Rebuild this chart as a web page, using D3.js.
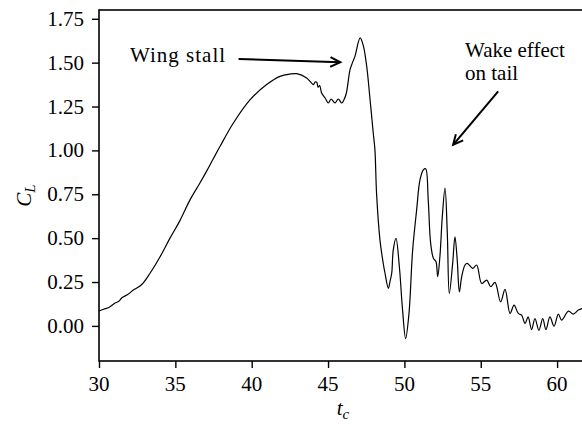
<!DOCTYPE html>
<html>
<head>
<meta charset="utf-8">
<script src="https://cdn.jsdelivr.net/npm/d3@7"></script>
<style>
  body { margin: 0; background: #fff; }
  svg { display: block; }
</style>
</head>
<body>
<svg id="chart" width="582" height="424"></svg>
<script>
// Lift coefficient history versus convective time
const tc = [30.0, 30.3, 30.65, 31.05, 31.3, 31.5, 31.9, 32.25, 32.8, 33.34, 34.0, 34.65, 35.3, 35.96, 36.6, 37.05,
  37.5, 37.92, 38.8, 39.9, 40.98, 41.85, 42.5, 42.95, 43.6, 44.04, 44.15, 44.26, 44.35, 44.45, 44.58, 44.8, 45.02,
  45.2, 45.45, 45.67, 45.9, 46.05, 46.2, 46.44, 46.6, 46.76, 47.1, 47.3, 47.53, 47.75, 47.96, 48.07, 48.18,
  48.4, 48.58, 48.73, 48.95, 49.05, 49.17, 49.27, 49.45, 49.67, 49.88, 50.08, 50.3, 50.54, 50.8, 51.02, 51.24,
  51.39, 51.56, 51.72, 51.9, 52.07, 52.18, 52.33, 52.48, 52.66, 52.81, 52.94, 53.16, 53.31, 53.46, 53.6, 53.75,
  53.97, 54.12, 54.47, 54.73, 55.06, 55.39, 55.65, 55.93, 56.3, 56.59, 56.92, 57.18, 57.46, 57.68, 57.9, 58.1,
  58.33, 58.55, 58.81, 59.06, 59.27, 59.53, 59.8, 60.08, 60.3, 60.74, 61.06, 61.39, 61.63, 62.0];
const cl = [0.085, 0.095, 0.105, 0.13, 0.14, 0.16, 0.18, 0.204, 0.236, 0.30, 0.394, 0.50, 0.60, 0.718, 0.813, 0.882,
  0.955, 1.022, 1.156, 1.289, 1.375, 1.422, 1.435, 1.437, 1.413, 1.375, 1.39, 1.388, 1.36, 1.37, 1.327, 1.30, 1.27,
  1.293, 1.27, 1.293, 1.27, 1.29, 1.327, 1.46, 1.50, 1.536, 1.641, 1.60, 1.48, 1.29, 1.099, 1.003, 0.75,
  0.489, 0.375, 0.30, 0.214, 0.25, 0.30, 0.432, 0.499, 0.337, 0.09, -0.072, 0.071, 0.432, 0.66, 0.832, 0.889,
  0.895, 0.718, 0.47, 0.385, 0.366, 0.28, 0.40, 0.62, 0.785, 0.528, 0.185, 0.356, 0.508, 0.375, 0.194, 0.28,
  0.347, 0.356, 0.328, 0.347, 0.242, 0.261, 0.223, 0.248, 0.137, 0.208, 0.071, 0.118, 0.071, 0.061, 0.014, 0.051,
  -0.021, 0.042, -0.025, 0.042, -0.021, 0.051, -0.002, 0.067, 0.033, 0.084, 0.067, 0.09, 0.099, 0.105];

const xTicks = [30, 35, 40, 45, 50, 55, 60];
const yTicks = [0.00, 0.25, 0.50, 0.75, 1.00, 1.25, 1.50, 1.75];

const xDomain = [30, 62];
const yDomain = [-0.2, 1.8];

// Annotations: label lines, arrow tail and head in data units
const stallLabel = ["Wing stall"];
const stallArrow = { from: [39.14, 1.521], to: [45.8, 1.502] };
const wakeLabel = ["Wake effect", "on tail"];
const wakeArrow = { from: [56.14, 1.336], to: [53.19, 1.032] };

const FONT = "Liberation Serif";
const fs = 21;

const svg = d3.select("#chart");
const m = { left: 99, top: 10, bottom: 361 };
const x = d3.scaleLinear().domain(xDomain).range([m.left, m.left + 32 * 15.27]);
const y = d3.scaleLinear().domain(yDomain).range([m.bottom, m.top]);

// plot frame
svg.append("rect")
  .attr("x", x(xDomain[0])).attr("y", y(yDomain[1]))
  .attr("width", x(xDomain[1]) - x(xDomain[0]))
  .attr("height", y(yDomain[0]) - y(yDomain[1]))
  .attr("fill", "none").attr("stroke", "#000").attr("stroke-width", 1.6);

// tick marks from the axis generators, labels as plain text
const xAxis = d3.axisBottom(x).tickValues(xTicks).tickFormat("").tickSize(7);
const yAxis = d3.axisLeft(y).tickValues(yTicks).tickFormat("").tickSize(7);
const gx = svg.append("g").attr("transform", `translate(0,${m.bottom})`).call(xAxis);
const gy = svg.append("g").attr("transform", `translate(${m.left},0)`).call(yAxis);
[gx, gy].forEach(g => {
  g.select(".domain").remove();
  g.selectAll(".tick text").remove();
  g.selectAll(".tick line").attr("stroke", "#000").attr("stroke-width", 1.4);
});

svg.selectAll("text.xt").data(xTicks).join("text").attr("class", "xt")
  .attr("x", d => x(d)).attr("y", m.bottom + 30)
  .attr("text-anchor", "middle")
  .attr("font-family", FONT).attr("font-size", fs)
  .text(d3.format("d"));
svg.selectAll("text.yt").data(yTicks).join("text").attr("class", "yt")
  .attr("x", m.left - 15).attr("y", d => y(d) + 7)
  .attr("text-anchor", "end")
  .attr("font-family", FONT).attr("font-size", fs)
  .text(d3.format(".2f"));

// data line
const pts = tc.map((t, i) => [t, cl[i]]);
const line = d3.line().x(d => x(d[0])).y(d => y(d[1])).curve(d3.curveCatmullRom.alpha(0.5));
svg.append("path").datum(pts)
  .attr("d", line)
  .attr("fill", "none").attr("stroke", "#000").attr("stroke-width", 1.2)
  .attr("stroke-linejoin", "round");

// axis labels
const yl = svg.append("text")
  .attr("transform", `translate(31,${(m.top + m.bottom) / 2 + 10}) rotate(-90)`)
  .attr("text-anchor", "middle").attr("font-family", FONT)
  .attr("font-size", fs).attr("font-style", "italic");
yl.append("tspan").text("C");
yl.append("tspan").attr("font-size", 15).attr("dy", 4).text("L");

const xl = svg.append("text")
  .attr("x", 343).attr("y", 415)
  .attr("text-anchor", "middle").attr("font-family", FONT)
  .attr("font-size", fs).attr("font-style", "italic");
xl.append("tspan").text("t");
xl.append("tspan").attr("font-size", 15).attr("dy", 4).text("c");

// arrows: shaft plus open head at the tip
function arrow(a) {
  const x1 = x(a.from[0]), y1 = y(a.from[1]), x2 = x(a.to[0]), y2 = y(a.to[1]);
  const ang = Math.atan2(y2 - y1, x2 - x1), L = 11, W = 0.45;
  svg.append("line").attr("x1", x1).attr("y1", y1).attr("x2", x2).attr("y2", y2)
    .attr("stroke", "#000").attr("stroke-width", 2);
  const p = d3.path();
  p.moveTo(x2 - L * Math.cos(ang - W), y2 - L * Math.sin(ang - W));
  p.lineTo(x2, y2);
  p.lineTo(x2 - L * Math.cos(ang + W), y2 - L * Math.sin(ang + W));
  svg.append("path").attr("d", p.toString()).attr("fill", "none")
    .attr("stroke", "#000").attr("stroke-width", 2).attr("stroke-linejoin", "miter");
}
arrow(stallArrow);
arrow(wakeArrow);

// annotation text
svg.append("text").attr("x", 130).attr("y", 62)
  .attr("font-family", FONT).attr("font-size", fs).attr("letter-spacing", 1)
  .text(stallLabel[0]);
const wt = svg.append("text").attr("x", 465).attr("y", 57)
  .attr("font-family", FONT).attr("font-size", fs);
wakeLabel.forEach((s, i) => wt.append("tspan").attr("x", 465).attr("dy", i ? 23 : 0).text(s));
</script>
</body>
</html>
